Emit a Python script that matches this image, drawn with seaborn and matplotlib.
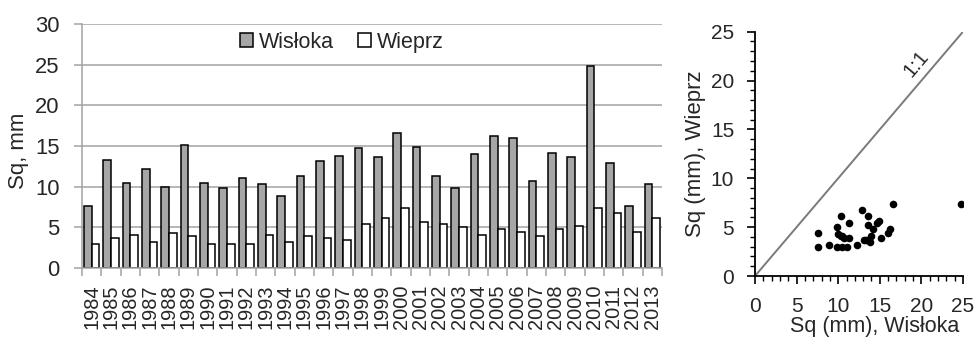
import matplotlib
matplotlib.use("Agg")
import matplotlib.pyplot as plt
from matplotlib.patches import Patch
from matplotlib.ticker import MultipleLocator
import numpy as np
import pandas as pd
import seaborn as sns

# Annual Sq values (mm) for the two rivers
years = ["1984", "1985", "1986", "1987", "1988", "1989", "1990", "1991", "1992", "1993",
         "1994", "1995", "1996", "1997", "1998", "1999", "2000", "2001", "2002", "2003",
         "2004", "2005", "2006", "2007", "2008", "2009", "2010", "2011", "2012", "2013"]
wisloka = [7.6, 13.3, 10.4, 12.2, 10.0, 15.1, 10.4, 9.8, 11.1, 10.3,
           8.9, 11.3, 13.1, 13.8, 14.7, 13.6, 16.6, 14.9, 11.3, 9.8,
           14.0, 16.2, 16.0, 10.7, 14.2, 13.6, 24.8, 12.9, 7.6, 10.3]
wieprz = [3.0, 3.7, 4.1, 3.2, 4.3, 3.9, 3.0, 3.0, 3.0, 4.1,
          3.2, 3.9, 3.7, 3.5, 5.4, 6.1, 7.4, 5.6, 5.4, 5.0,
          4.1, 4.8, 4.4, 3.9, 4.8, 5.2, 7.4, 6.8, 4.4, 6.1]
rivers = ["Wisłoka", "Wieprz"]
river_colors = {"Wisłoka": "#a6a6a6", "Wieprz": "#ffffff"}

sns.set_style("white")
plt.rcParams["font.family"] = ["Liberation Sans", "DejaVu Sans"]
TXT = "#262626"
GRID = "#a3a3a3"

fig = plt.figure(figsize=(9.77, 3.4), dpi=100)
ax = fig.add_axes([82 / 977, 72 / 340, 580 / 977, 244 / 340])
ax2 = fig.add_axes([755 / 977, 64 / 340, 208 / 977, 244.3 / 340])

# ---- bar chart of yearly values ----
df = pd.DataFrame({
    "Rok": years * 2,
    "Sq": wisloka + wieprz,
    "Rzeka": [rivers[0]] * len(years) + [rivers[1]] * len(years),
})
sns.barplot(data=df, x="Rok", y="Sq", hue="Rzeka", hue_order=rivers,
            palette=river_colors, saturation=1, edgecolor="black",
            linewidth=1.1, width=0.8, legend=False, ax=ax)

ax.set_xlim(-0.5, len(years) - 0.5)
ax.set_ylim(0, 30)
ax.yaxis.set_major_locator(MultipleLocator(5))
ax.set_axisbelow(True)
ax.yaxis.grid(True, color=GRID, lw=1.1)
ax.xaxis.grid(False)
for side in ("top", "right"):
    ax.spines[side].set_visible(False)
for side in ("left", "bottom"):
    ax.spines[side].set_color(GRID)
    ax.spines[side].set_linewidth(1.1)

ax.set_xticks(np.arange(-0.5, len(years), 1), minor=True)
ax.tick_params(axis="x", which="major", length=0, pad=12, labelsize=14.4,
               labelrotation=90, labelcolor=TXT)
ax.tick_params(axis="x", which="minor", length=6, width=1.1, color=GRID,
               direction="out", bottom=True)
ax.tick_params(axis="y", which="major", length=6, width=1.1, color=GRID,
               direction="out", left=True, pad=10, labelsize=15.8,
               labelcolor=TXT)
ax.set_xlabel("")
ax.set_ylabel("Sq, mm", fontsize=16, color=TXT)
ax.yaxis.set_label_coords(-0.092, 0.48)

handles = [Patch(facecolor=river_colors[r], edgecolor="black", lw=1.1) for r in rivers]
ax.legend(handles, rivers, loc="center", bbox_to_anchor=(0.448, 0.926), ncol=2,
          frameon=False, fontsize=15.5, handlelength=0.6, handleheight=0.6,
          handletextpad=0.3, columnspacing=1.1, labelcolor=TXT,
          borderaxespad=0, borderpad=0)

# ---- scatter of Wieprz vs Wisłoka ----
sns.scatterplot(x=wisloka, y=wieprz, color="black", s=30, linewidth=0, ax=ax2)
ax2.axline((0, 0), slope=1, color="#7a7a7a", lw=1.4)
ax2.text(19.4, 21.7, "1:1", rotation=50, ha="center", va="center",
         rotation_mode="anchor", fontsize=14.5, color=TXT)

ax2.set_xlim(0, 25)
ax2.set_ylim(0, 25)
for a in (ax2.xaxis, ax2.yaxis):
    a.set_major_locator(MultipleLocator(5))
    a.set_minor_locator(MultipleLocator(1))
for side in ("top", "right"):
    ax2.spines[side].set_visible(False)
for side in ("left", "bottom"):
    ax2.spines[side].set_color("black")
    ax2.spines[side].set_linewidth(1.3)
ax2.tick_params(which="major", length=6, width=1.2, color="black",
                direction="out", bottom=True, left=True, labelsize=15,
                labelcolor=TXT, pad=9)
ax2.tick_params(which="minor", length=3.5, width=1.0, color="black",
                direction="out", bottom=True, left=True)
ax2.set_xlabel("Sq (mm), Wisłoka", fontsize=15.5, color=TXT)
ax2.xaxis.set_label_coords(0.575, -0.165)
ax2.set_ylabel("Sq (mm), Wieprz", fontsize=16, color=TXT)
ax2.yaxis.set_label_coords(-0.235, 0.5)

fig.savefig("out.png", dpi=100)
